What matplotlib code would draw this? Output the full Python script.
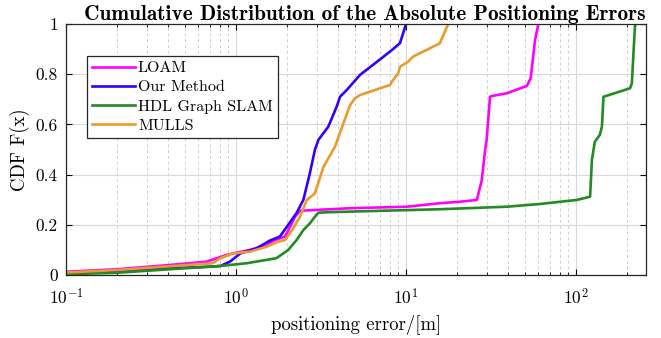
import matplotlib
matplotlib.use("Agg")
import matplotlib.pyplot as plt
from matplotlib.ticker import LogLocator, FixedLocator, FuncFormatter, NullFormatter

plt.rcParams['font.family'] = ['cmr10', 'DejaVu Serif']
plt.rcParams['mathtext.fontset'] = 'cm'
plt.rcParams['axes.formatter.use_mathtext'] = True
plt.rcParams['axes.unicode_minus'] = False

# ---- data ----
loam_x = [0.1, 0.2, 0.41, 0.67, 0.88, 0.96, 1.21, 1.5, 1.69, 1.94, 2.08, 2.22, 2.38,
          4.69, 10.1, 15.8, 20.8, 26.1, 27.9, 29.2, 29.8, 31.2, 31.9, 39.1, 51.3,
          54.1, 57.4, 60.0]
loam_y = [0.013, 0.023, 0.04, 0.053, 0.08, 0.086, 0.10, 0.12, 0.139, 0.153, 0.192, 0.232, 0.256,
          0.266, 0.272, 0.286, 0.292, 0.299, 0.378, 0.498, 0.538, 0.710, 0.713, 0.724, 0.753,
          0.784, 0.936, 1.0]

ours_x = [0.1, 0.2, 0.41, 0.70, 0.81, 0.92, 1.06, 1.32, 1.58, 1.81, 1.99, 2.27, 2.49,
          2.72, 2.91, 3.05, 3.49, 3.91, 4.09, 4.48, 5.36, 7.03, 8.25, 9.22, 10.0]
ours_y = [0.008, 0.016, 0.027, 0.033, 0.036, 0.053, 0.086, 0.106, 0.137, 0.153, 0.192, 0.247, 0.299,
          0.406, 0.498, 0.538, 0.591, 0.671, 0.710, 0.737, 0.797, 0.859, 0.896, 0.924, 1.0]

hdl_x = [0.1, 0.2, 0.41, 0.81, 1.16, 1.73, 2.03, 2.27, 2.49, 2.72, 2.91, 3.05, 3.42,
         15.8, 20.8, 39.1, 61.4, 101, 121, 124, 129, 138, 142, 145, 208, 213, 222, 224]
hdl_y = [0.003, 0.009, 0.023, 0.036, 0.047, 0.067, 0.10, 0.139, 0.179, 0.206, 0.232, 0.248, 0.25,
         0.262, 0.265, 0.272, 0.283, 0.299, 0.312, 0.458, 0.531, 0.558, 0.591, 0.710, 0.744, 0.764, 0.989, 1.0]

mulls_x = [0.1, 0.2, 0.41, 0.73, 0.81, 0.96, 1.21, 1.52, 1.77, 1.94, 2.17, 2.38, 2.61, 2.91,
           3.27, 3.82, 4.28, 4.69, 5.01, 5.36, 8.05, 8.25, 9.0, 9.22, 10.3, 11.0, 15.8, 17.7]
mulls_y = [0.01, 0.02, 0.035, 0.047, 0.067, 0.086, 0.093, 0.113, 0.133, 0.139, 0.186, 0.232, 0.299, 0.325,
           0.431, 0.511, 0.604, 0.677, 0.704, 0.717, 0.757, 0.770, 0.804, 0.830, 0.850, 0.870, 0.923, 1.0]

series_names = ['LOAM', 'Our Method', 'HDL Graph SLAM', 'MULLS']
series_colors = ['#FF00FF', '#3300FF', '#228B22', '#EB9A2E']
ytick_vals = [0, 0.2, 0.4, 0.6, 0.8, 1]

fig = plt.figure(figsize=(6.61, 3.38), dpi=100)
ax = fig.add_axes([66/661, 1-275/338, 580/661, 251/338])

for xs, ys, name, col in zip([loam_x, ours_x, hdl_x, mulls_x],
                             [loam_y, ours_y, hdl_y, mulls_y],
                             series_names, series_colors):
    ax.plot(xs, ys, color=col, lw=1.9, label=name)

ax.set_xscale('log')
ax.set_xlim(0.1, 258)
ax.set_ylim(0, 1)
ax.yaxis.set_major_locator(FixedLocator(ytick_vals))
ax.yaxis.set_major_formatter(FuncFormatter(lambda v, p: '%g' % v))
ax.xaxis.set_major_locator(LogLocator(base=10, numticks=10))
ax.xaxis.set_minor_locator(LogLocator(base=10, subs=range(2, 10), numticks=20))
ax.xaxis.set_minor_formatter(NullFormatter())

ax.grid(True, which='major', color='#d9d9d9', lw=0.8, ls='-')
ax.grid(True, which='minor', axis='x', color='#d0d0d0', lw=0.7, ls=(0, (3, 3)))
ax.set_axisbelow(True)

ax.tick_params(which='both', direction='in', top=True, right=True, labelsize=12.5)
ax.tick_params(which='major', length=4, width=0.8)
ax.tick_params(which='minor', length=2.5, width=0.6)
ax.tick_params(axis='x', which='major', pad=9)
ax.tick_params(axis='y', which='major', pad=6)
for s in ax.spines.values():
    s.set_linewidth(0.9)
    s.set_color('#262626')

ax.set_title('Cumulative Distribution of the Absolute Positioning Errors',
             fontfamily='cmb10', fontsize=15.3, pad=3, x=0.515)
ax.set_xlabel('positioning error/[m]', fontsize=13.5, labelpad=5)
ax.set_ylabel('CDF F(x)', fontsize=13.5, labelpad=4)

leg = ax.legend(loc='upper left', bbox_to_anchor=(0.036, 0.872), fontsize=11.5,
                frameon=True, fancybox=False, framealpha=1, edgecolor='#262626',
                handlelength=2.7, handletextpad=0.2, borderpad=0.3, labelspacing=0.32,
                borderaxespad=0)
leg.get_frame().set_linewidth(0.9)

fig.savefig('out.png', dpi=100)
